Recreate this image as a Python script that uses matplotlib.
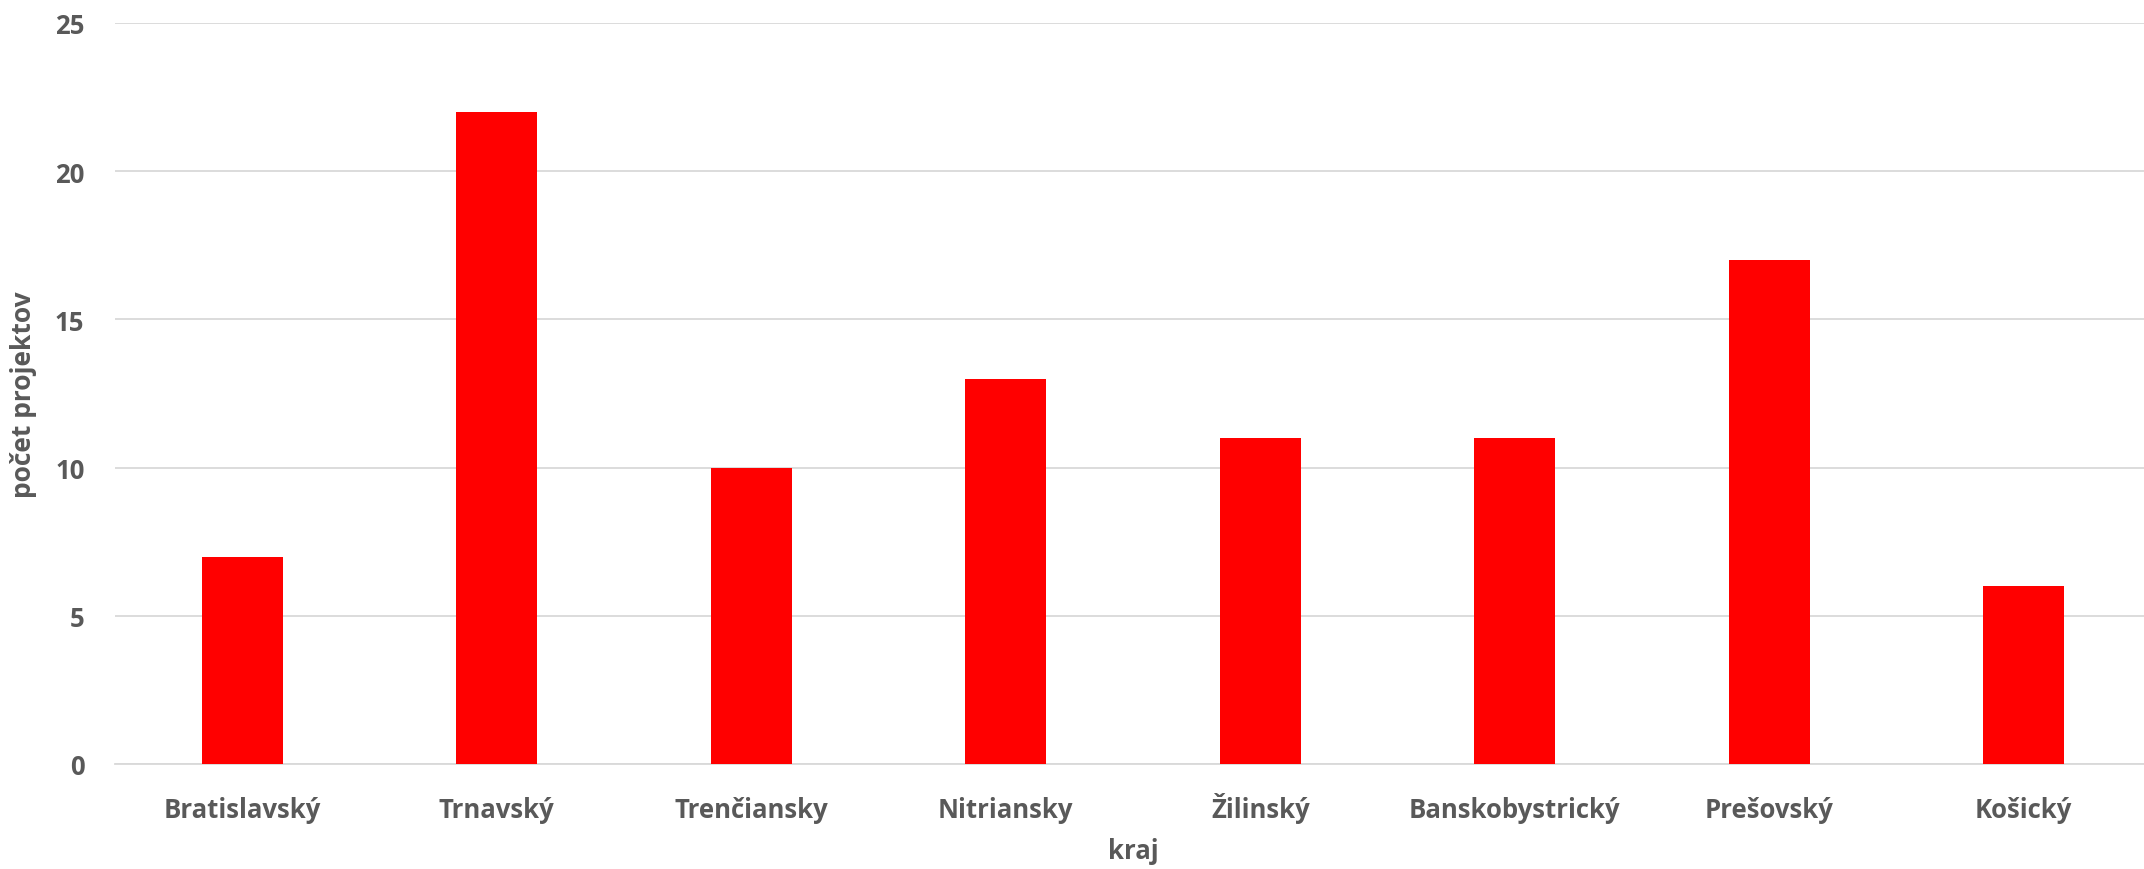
import matplotlib
matplotlib.use('Agg')
import matplotlib.pyplot as plt

regions = ["Bratislavský", "Trnavský", "Trenčiansky", "Nitriansky",
           "Žilinský", "Banskobystrický", "Prešovský", "Košický"]
projects = [7, 22, 10, 13, 11, 11, 17, 6]
y_ticks = [0, 5, 10, 15, 20, 25]

TEXT = "#595959"
GRID = "#d9d9d9"

plt.rcParams['font.family'] = ['Open Sans', 'DejaVu Sans']

fig = plt.figure(figsize=(21.44, 8.70), dpi=100)
# plot area: x 115..2151 px, y 24..765 px
ax = fig.add_axes([115 / 2144, 1 - 765 / 870, (2151 - 115) / 2144, (765 - 24) / 870])

x = range(len(regions))
ax.bar(x, projects, width=0.318, color="#ff0000", zorder=3)

ax.set_xlim(-0.5, len(regions) - 0.5)
ax.set_ylim(0, 25)
ax.set_yticks(y_ticks)
ax.set_xticks(list(x))
ax.set_xticklabels(regions)

ax.yaxis.grid(True, color=GRID, linewidth=1.3, zorder=0)
ax.set_axisbelow(True)
for s in ["top", "right", "left"]:
    ax.spines[s].set_visible(False)
ax.spines["bottom"].set_color(GRID)
ax.spines["bottom"].set_linewidth(1.3)

ax.tick_params(axis="both", length=0, labelsize=18.5, labelcolor=TEXT)
ax.tick_params(axis="y", pad=22)
ax.tick_params(axis="x", pad=38)
for lab in ax.get_xticklabels() + ax.get_yticklabels():
    lab.set_fontweight("bold")
for lab in ax.get_xticklabels():
    lab.set_verticalalignment("baseline")

ax.set_xlabel("kraj", fontsize=18.5, fontweight="bold", color=TEXT, labelpad=10)
ax.set_ylabel("počet projektov", fontsize=19, fontweight="bold", color=TEXT, labelpad=13)

fig.savefig("out.png", dpi=100, facecolor="white")
